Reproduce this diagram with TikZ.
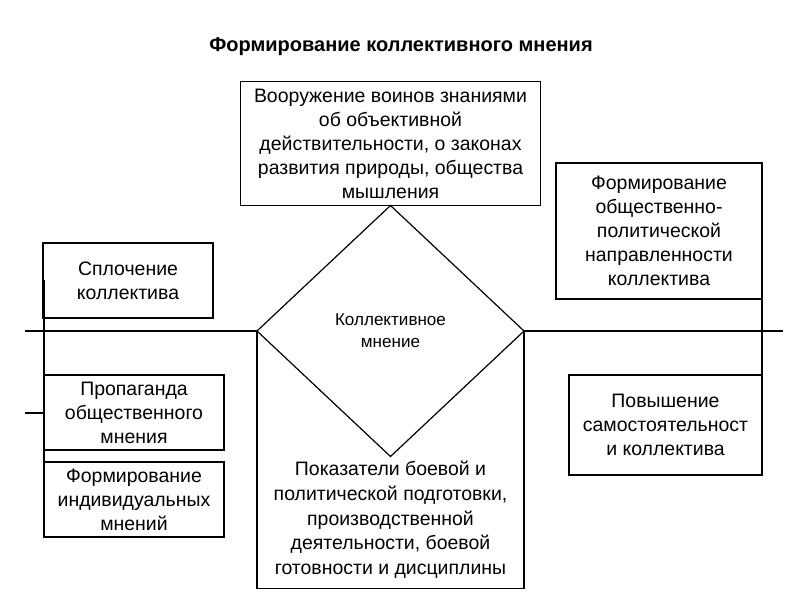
\documentclass[tikz,border=0pt]{standalone}
\usepackage{fontspec}
\setmainfont{Liberation Sans}
\usetikzlibrary{shapes.geometric, positioning}

\begin{document}
\begin{tikzpicture}[x=0.75pt, y=-0.75pt, line width=0.9pt,
    box/.style={draw, align=center, inner sep=0pt, outer sep=0pt,
                font=\fontsize{14.6}{18}\selectfont},
    plain/.style={align=center, inner sep=0pt,
                font=\fontsize{14.6}{18.5}\selectfont}]

    \useasboundingbox (0,0) rectangle (800,600);

    % Title
    \node[font=\bfseries\fontsize{15}{18}\selectfont] (title) at (401,47)
          {Формирование коллективного мнения};

    % Central diamond
    \node[diamond,
          draw,
          minimum width=200.25pt,
          minimum height=188.25pt,
          inner sep=0pt, outer sep=0pt,
          align=center,
          font=\fontsize{12.8}{16.5}\selectfont]
          (opinion) at (390.5,331) {Коллективное\\мнение};

    % Box on top of the diamond
    \node[box, minimum width=225pt, minimum height=93pt]
          (arming) [above=0pt of opinion.north, anchor=south]
          {Вооружение воинов знаниями\\об объективной\\действительности, о законах\\развития природы, общества\\мышления};

    % Open box under the diamond
    \node[plain, minimum width=200.25pt, minimum height=102pt]
          (indicators) at (390.5,520)
          {Показатели боевой и\\политической подготовки,\\производственной\\деятельности, боевой\\готовности и дисциплины};

    % Left boxes
    \node[box, minimum width=127.5pt, minimum height=56.25pt]
          (unity) at (128,280.5) {Сплочение\\коллектива};
    \node[box, minimum width=135pt, minimum height=56.25pt]
          (propaganda) at (134,412.5) {Пропаганда\\общественного\\мнения};
    \node[box, minimum width=135pt, minimum height=56.25pt]
          (individual) [below=9pt of propaganda] {Формирование\\индивидуальных\\мнений};

    % Right boxes
    \node[box, minimum width=154.5pt, minimum height=102pt]
          (orientation) at (659,231)
          {Формирование\\общественно-\\политической\\направленности\\коллектива};
    \node[box, minimum width=144.75pt, minimum height=75pt]
          (autonomy) at (665.5,425)
          {Повышение\\самостоятельност\\и коллектива};

    % Free ends of the lines
    \coordinate (axisL) at (25,331);
    \coordinate (axisR) at (783,331);
    \coordinate (lspineT) at (44,280);
    \coordinate (lspineB) at (44,500);
    \coordinate (ltick) at (25,413);
    \coordinate (rspineT) at (762,230);
    \coordinate (rspineB) at (762,423);

    % Horizontal axis through the diamond
    \draw (axisL) -- (opinion.west);
    \draw (opinion.east) -- (axisR);

    % Sides of the lower box
    \draw (opinion.west) -- (opinion.west |- indicators.south)
          -- (opinion.east |- indicators.south) -- (opinion.east);

    % Vertical spines
    \draw (lspineT) -- (lspineB);
    \draw (ltick) -- (ltick -| lspineT);
    \draw (rspineT) -- (rspineB);

\end{tikzpicture}
\end{document}
